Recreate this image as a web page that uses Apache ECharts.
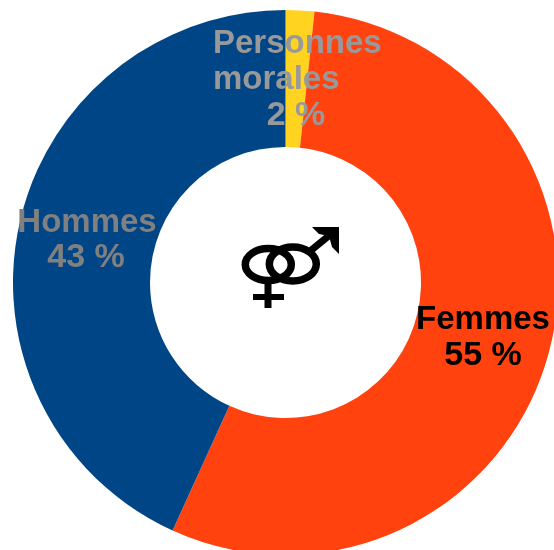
<!DOCTYPE html>
<html><head><meta charset="utf-8">
<style>html,body{margin:0;padding:0;background:#fff}#c{width:554px;height:550px}</style>
<script src="https://cdn.jsdelivr.net/npm/echarts@6/dist/echarts.min.js"></script>
</head><body><div id="c"></div>
<script>
const categories=['Personnes morales','Femmes','Hommes'];
const values=[1.7,55.1,43.2];
const percentLabels=['2 %','55 %','43 %'];
const colors=['#ffd320','#ff420e','#004586'];
const chart=echarts.init(document.getElementById('c'));
const txt=(x,y,text,fill,align,sx)=>({type:'text',x,y,z:10,scaleX:sx||0.97,style:{text,fill,align:align||'center',verticalAlign:'middle',font:'bold 34px "Liberation Sans"'}});
const sym={stroke:'#000',fill:'none',lineWidth:7.5};
chart.setOption({
 animation:false,
 series:[{type:'pie',center:[285.5,282.5],radius:[135.5,272.5],startAngle:90,clockwise:true,silent:true,
  itemStyle:{borderWidth:0},labelLine:{show:false},label:{show:false},
  data:categories.map((n,i)=>({name:n,value:values[i],itemStyle:{color:colors[i]}}))
 }],
 graphic:[
  txt(213,44,'Personnes','#999999','left'),
  txt(213,80,'morales','#999999','left'),
  txt(296,116,percentLabels[0],'#999999','center',1),
  txt(87,223,categories[2],'#808080'),
  txt(86,258,percentLabels[2],'#808080','center',1),
  txt(483,320,categories[1],'#000000'),
  txt(483,356,percentLabels[1],'#000000','center',1),
  {type:'ellipse',shape:{cx:268.3,cy:264.6,rx:23,ry:16},style:sym,z:5},
  {type:'ellipse',shape:{cx:292.8,cy:264,rx:23.5,ry:17},style:sym,z:5},
  {type:'line',shape:{x1:268,y1:283,x2:268,y2:308},style:{stroke:'#000',lineWidth:7},z:5},
  {type:'line',shape:{x1:253,y1:297,x2:284,y2:297},style:{stroke:'#000',lineWidth:6},z:5},
  {type:'line',shape:{x1:309,y1:252,x2:331,y2:234},style:{stroke:'#000',lineWidth:7},z:5},
  {type:'polygon',shape:{points:[[312,227],[339,227],[339,254],[332,247],[329,236],[319,234]]},style:{fill:'#000'},z:5}
 ]
});
</script></body></html>
